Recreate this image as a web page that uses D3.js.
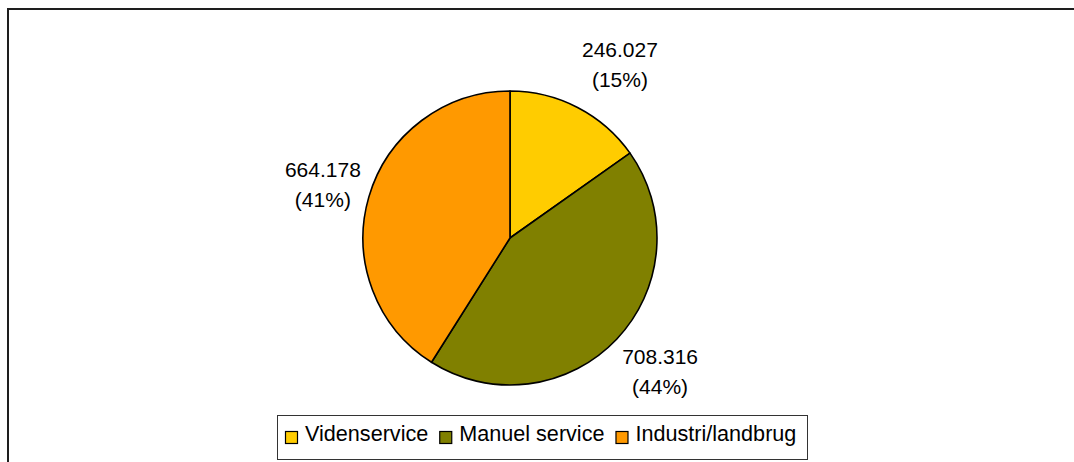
<!DOCTYPE html>
<html>
<head>
<meta charset="utf-8">
<script src="https://cdn.jsdelivr.net/npm/d3@7"></script>
<style>
  html, body { margin: 0; padding: 0; background: #ffffff; }
  svg { display: block; }
  text { font-family: "Liberation Sans", Arial, sans-serif; fill: #000; }
</style>
</head>
<body>
<svg id="chart" width="1074" height="462"></svg>
<script>
// Employment by sector
const categories = ["Videnservice", "Manuel service", "Industri/landbrug"];
const values = [246027, 708316, 664178];
const valueLabels = ["246.027", "708.316", "664.178"];
const percentLabels = ["(15%)", "(44%)", "(41%)"];
const colors = ["#FFCC00", "#808000", "#FF9900"];

// Layout
const W = 1074, H = 462;
const cx = 510, cy = 238, radius = 147;
const labelRadius = 200;
const labelNudge = [[18, 4], [5, -4], [5, 2]];
const fontSize = 21;
const legendFontSize = 21.6;
const lineGap = 30;

const svg = d3.select("#chart");

// Chart frame (top and left edges visible)
svg.append("path")
  .attr("d", `M8,${H} V9 H${W}`)
  .attr("fill", "none")
  .attr("stroke", "#1e1e1e")
  .attr("stroke-width", 2);

const data = categories.map((c, i) => ({
  name: c, value: values[i], vLabel: valueLabels[i], pLabel: percentLabels[i], color: colors[i]
}));

const pie = d3.pie().value(d => d.value).sort(null);
const arcs = pie(data);
const arc = d3.arc().innerRadius(0).outerRadius(radius);

const g = svg.append("g").attr("transform", `translate(${cx},${cy})`);

g.selectAll("path.slice")
  .data(arcs)
  .join("path")
  .attr("class", "slice")
  .attr("d", arc)
  .attr("fill", d => d.data.color)
  .attr("stroke", "#000")
  .attr("stroke-width", 1.6)
  .attr("stroke-linejoin", "round");

// Data labels: value and share, outside each slice
const labels = g.selectAll("g.lbl")
  .data(arcs)
  .join("g")
  .attr("class", "lbl")
  .attr("transform", (d, i) => {
    const a = (d.startAngle + d.endAngle) / 2;
    const x = Math.sin(a) * labelRadius + labelNudge[i][0];
    const y = -Math.cos(a) * labelRadius + labelNudge[i][1];
    return `translate(${x},${y})`;
  });

labels.append("text")
  .attr("text-anchor", "middle")
  .attr("font-size", fontSize)
  .attr("y", -lineGap / 2 + fontSize * 0.36)
  .text(d => d.data.vLabel);

labels.append("text")
  .attr("text-anchor", "middle")
  .attr("font-size", fontSize)
  .attr("y", lineGap / 2 + fontSize * 0.36)
  .text(d => d.data.pLabel);

// Legend
const legend = svg.append("g");
const legendBox = legend.append("rect")
  .attr("fill", "#fff")
  .attr("stroke", "#333")
  .attr("stroke-width", 1);

const swatch = 13, swGap = 7, itemGap = 11, padL = 8, padR = 11, baseY = 441;
let x = 277 + padL;
data.forEach(d => {
  legend.append("rect")
    .attr("x", x + 0.5).attr("y", baseY - 10 + 0.5)
    .attr("width", swatch - 1).attr("height", swatch - 1)
    .attr("fill", d.color)
    .attr("stroke", "#000")
    .attr("stroke-width", 1.2);
  x += swatch + swGap;
  const t = legend.append("text")
    .attr("x", x).attr("y", baseY)
    .attr("font-size", legendFontSize)
    .text(d.name);
  x += t.node().getComputedTextLength() + itemGap;
});
legendBox
  .attr("x", 277.5).attr("y", 415.5)
  .attr("width", Math.round(x - itemGap + padR - 277))
  .attr("height", 44);
</script>
</body>
</html>
